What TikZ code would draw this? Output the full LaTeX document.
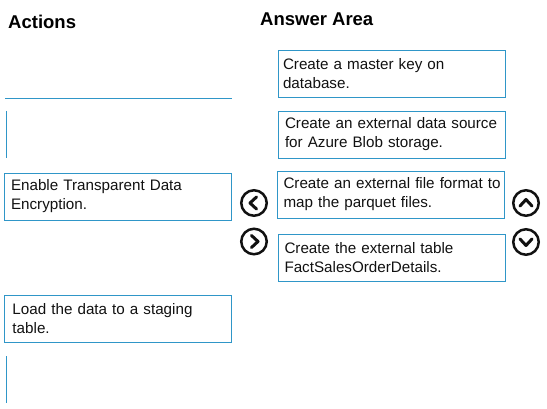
\documentclass[tikz,border=0pt]{standalone}
\usepackage{fontspec}
\setmainfont{Liberation Sans}
\usepackage{xcolor}
\definecolor{frame500}{HTML}{2F96C8}
\definecolor{ink900}{HTML}{111111}
\usepackage{tikz}
\usetikzlibrary{positioning}

\begin{document}
\begin{tikzpicture}[
        x=1pt, y=-1pt,
        card/.style={draw=frame500, line width=0.9pt, rectangle, minimum width=227pt, minimum height=47pt, text width=219pt, inner xsep=4pt, align=left, font=\fontsize{15.2}{19}\selectfont, text=ink900},
        slot/.style={draw=frame500, line width=0.9pt},
        heading/.style={font=\fontsize{18.5}{22}\selectfont\bfseries, anchor=base west, inner sep=0pt},
        btn/.style={draw=ink900, circle, line width=2.5pt, minimum size=25.5pt, inner sep=0pt},
        chev/.style={draw=ink900, line width=3pt, line cap=round, line join=round}
    ]
        \useasboundingbox (0,0) rectangle (547,409);

        % Headings
        \node[heading] (actions) at (8,29) {Actions};
        \node[heading] (answer) at (260,26) {Answer Area};

        % Actions column
        \draw[slot] (5,98) -- (232,98);
        \draw[slot] (6,111) -- (6,158);
        \node[card] (tde) at (117.5,196.5) {\hspace*{3pt}Enable Transparent Data\\\hspace*{3pt}Encryption.};
        \node[card] (load) at (118,319) {\hspace*{4pt}Load the data to a staging\\\hspace*{4pt}table.};
        \draw[slot] (6,356) -- (6,403);

        % Answer Area column
        \node[card] (masterkey) at (391.5,73.5) {\hspace*{1pt}Create a master key on\\\hspace*{1pt}database.};
        \node[card] (datasource) at (391.5,134.5) {\hspace*{3pt}Create an external data source\\\hspace*{3pt}for Azure Blob storage.};
        \node[card] (fileformat) at (391,194.5) {\hspace*{2pt}\mbox{Create an external file format to}\\\hspace*{2pt}map the parquet files.};
        \node[card] (exttable) at (392,257.5) {\hspace*{2pt}Create the external table\\\hspace*{2pt}FactSalesOrderDetails.};

        % Move buttons
        \node[btn] (moveleft) at (254,203) {};
        \node[btn] (moveright) at (254,241.5) {};
        \node[btn] (moveup) at (526,203) {};
        \node[btn] (movedown) at (526,242) {};

        \draw[chev, shift={(moveleft)}] (2.5,-6) -- (-4,0) -- (2.5,6);
        \draw[chev, shift={(moveright)}] (-2.5,-6) -- (4,0) -- (-2.5,6);
        \draw[chev, shift={(moveup)}] (-6,3) -- (0,-3.5) -- (6,3);
        \draw[chev, shift={(movedown)}] (-6,-3) -- (0,3.5) -- (6,-3);
    \end{tikzpicture}
\end{document}
